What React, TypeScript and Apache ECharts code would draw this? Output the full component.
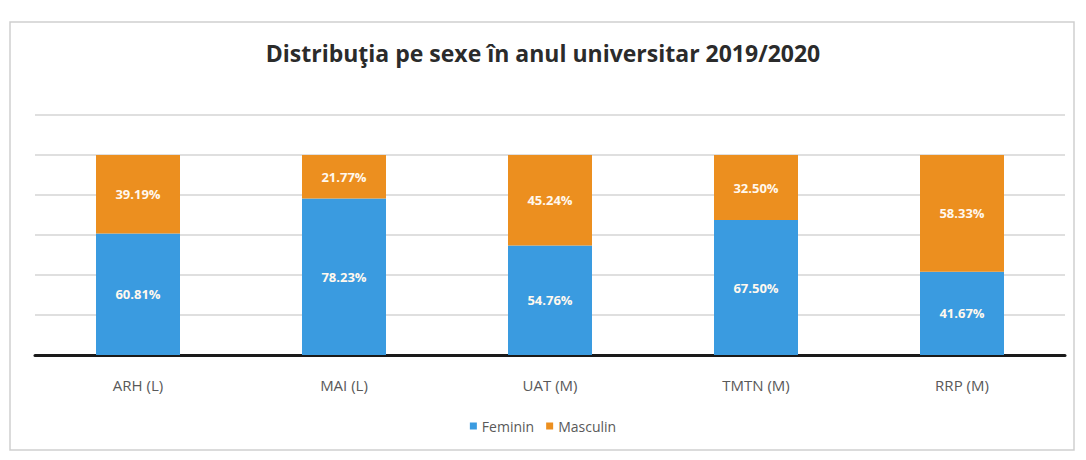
import React, { useEffect, useRef } from "react";
import * as echarts from "echarts";

const categories = ["ARH (L)", "MAI (L)", "UAT (M)", "TMTN (M)", "RRP (M)"];
const feminin = [60.81, 78.23, 54.76, 67.5, 41.67];
const masculin = [39.19, 21.77, 45.24, 32.5, 58.33];
const titleText = "Distribuţia pe sexe în anul universitar 2019/2020";

export default function App() {
  const ref = useRef<HTMLDivElement>(null);
  useEffect(() => {
    if (!ref.current) return;
    const chart = echarts.init(ref.current, null, { renderer: "svg" });
    const font = "'Open Sans', 'Liberation Sans', sans-serif";
    const label = {
      show: true,
      position: "inside",
      color: "#fff8ee",
      fontFamily: font,
      fontWeight: "bold",
      fontSize: 13,
      formatter: (p: any) => p.value.toFixed(2) + "%",
    };
    chart.setOption({
      animation: false,
      backgroundColor: "#ffffff",
      title: {
        text: titleText,
        left: "center",
        top: 28,
        textStyle: { fontFamily: font, fontSize: 23, fontWeight: "bold", color: "#2b2b2b" },
      },
      graphic: [
        {
          type: "rect",
          shape: { x: 2, y: 14, width: 1064, height: 428 },
          style: { fill: "none", stroke: "#cfcfcf", lineWidth: 1.5 },
          silent: true,
        },
      ],
      legend: {
        bottom: 14,
        left: "center",
        itemWidth: 7,
        itemHeight: 7,
        itemGap: 12,
        icon: "rect",
        textStyle: { fontFamily: font, fontSize: 14, color: "#595959" },
        data: ["Feminin", "Masculin"],
      },
      grid: { left: 27, right: 13, top: 107, bottom: 97 },
      xAxis: {
        type: "category",
        data: categories,
        axisLine: { lineStyle: { color: "#1a1a1a", width: 3 } },
        axisTick: { show: false },
        axisLabel: { fontFamily: font, fontSize: 15, color: "#595959", margin: 22 },
      },
      yAxis: {
        type: "value",
        min: 0,
        max: 120,
        interval: 20,
        axisLabel: { show: false },
        axisLine: { show: false },
        axisTick: { show: false },
        splitLine: { lineStyle: { color: "#d4d4d4", width: 1.5 } },
      },
      series: [
        {
          name: "Feminin",
          type: "bar",
          stack: "total",
          barWidth: 84,
          data: feminin,
          itemStyle: { color: "#3a9be0" },
          label,
        },
        {
          name: "Masculin",
          type: "bar",
          stack: "total",
          barWidth: 84,
          data: masculin,
          itemStyle: { color: "#ec8f1f" },
          label,
        },
      ],
    });
    return () => chart.dispose();
  }, []);
  return <div ref={ref} style={{ width: 1070, height: 444 }} />;
}
